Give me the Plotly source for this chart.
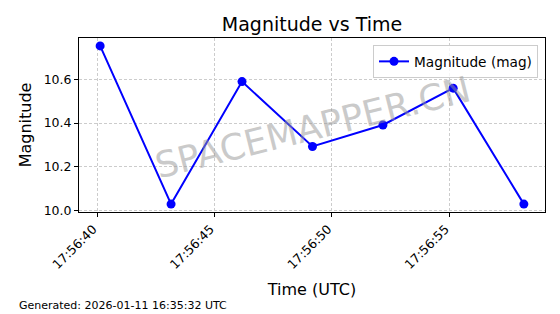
import plotly.graph_objects as go

times = ["2026-01-11 17:56:40.13", "2026-01-11 17:56:43.15", "2026-01-11 17:56:46.17",
         "2026-01-11 17:56:49.17", "2026-01-11 17:56:52.17", "2026-01-11 17:56:55.16",
         "2026-01-11 17:56:58.17"]
magnitudes = [10.752, 10.030, 10.589, 10.293, 10.391, 10.559, 10.030]
y_ticks = [10.0, 10.2, 10.4, 10.6]

FONT = "DejaVu Sans"

fig = go.Figure()
fig.add_trace(go.Scatter(
    x=times, y=magnitudes, mode="lines+markers", name="Magnitude (mag)",
    line=dict(color="#0000ff", width=2),
    marker=dict(color="#0000ff", size=9),
))

fig.update_layout(
    width=560, height=314,
    margin=dict(l=79, r=15, t=38, b=102),
    paper_bgcolor="white", plot_bgcolor="white",
    font=dict(family=FONT, color="black", size=12.5),
    title=dict(text="Magnitude vs Time", x=0.5, xref="paper", xanchor="center",
               y=1 - 24 / 314, yref="container", yanchor="middle",
               font=dict(size=19, family=FONT, color="black")),
    showlegend=True,
    legend=dict(x=0.985, y=0.96, xanchor="right", yanchor="top",
                bgcolor="rgba(255,255,255,0.8)", bordercolor="#cccccc", borderwidth=1,
                font=dict(size=13.7, family=FONT)),
)

fig.update_xaxes(
    type="date", range=["2026-01-11 17:56:39.23", "2026-01-11 17:56:59.07"],
    tick0="2026-01-11 17:56:40", dtick=5000, tickformat="%H:%M:%S", tickangle=-45,
    ticklabelshift=-4,
    showline=True, mirror=True, linecolor="black", linewidth=1,
    ticks="outside", ticklen=4, tickcolor="black",
    showgrid=True, gridcolor="#cccccc", griddash="3px,2px", gridwidth=0.8,
    zeroline=False,
    title=dict(text="Time (UTC)", font=dict(size=16, family=FONT), standoff=12),
)
fig.update_yaxes(
    range=[9.994, 10.788], tickvals=y_ticks, tickformat=".1f",
    showline=True, mirror=True, linecolor="black", linewidth=1,
    ticks="outside", ticklen=4, tickcolor="black",
    showgrid=True, gridcolor="#cccccc", griddash="3px,2px", gridwidth=0.8,
    zeroline=False,
    title=dict(text="Magnitude", font=dict(size=16, family=FONT), standoff=8),
)

fig.add_annotation(text="SPACEMAPPER.CN", xref="paper", yref="paper",
                   x=(312 - 79) / 466, y=(212 - 127) / 174, showarrow=False,
                   textangle=-14, font=dict(size=36, family=FONT, color="rgba(150,150,150,0.5)"))

fig.add_annotation(text="Generated: 2026-01-11 16:35:32 UTC", xref="paper", yref="paper",
                   x=(17 - 79) / 466, y=(212 - 305) / 174, xanchor="left", yanchor="middle",
                   showarrow=False, font=dict(size=11, family=FONT, color="black"))

fig.write_html("out.html")
